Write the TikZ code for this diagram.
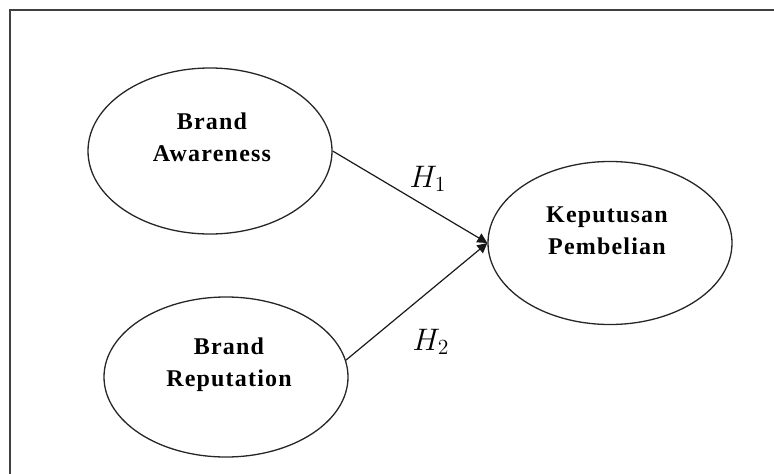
\documentclass[tikz,border=0pt]{standalone}
\usepackage{fontspec}
\setmainfont{Liberation Serif}
\newfontfamily\lblfont[LetterSpace=5]{Liberation Serif}
\usetikzlibrary{shapes.geometric,arrows.meta}
\begin{document}
\begin{tikzpicture}[x=1pt,y=-1pt,
  constr/.style={ellipse,draw=black!85,line width=1.3pt,minimum width=244pt,minimum height=166pt,inner sep=0pt},
  lbl/.style={align=center,inner sep=0pt,font=\lblfont\fontsize{24}{32}\selectfont\bfseries},
  path/.style={draw=black!90,line width=1.2pt,-{Triangle[length=10pt,width=10pt]}},
  hyp/.style={inner sep=0pt,font=\fontsize{20}{24}\selectfont}]
\useasboundingbox (0,0) rectangle (774,474);
\draw[black!75,line width=2pt] (10,474) -- (10,10) -- (774,10);
\node[constr] (ba) at (210,151) {};
\node[constr,minimum height=160pt] (br) at (226,377) {};
\node[constr,minimum height=163pt] (kp) at (610,243) {};
\node[lbl] (bat) at (212,137) {Brand\\Awareness};
\node[lbl] (brt) at (229,365) {Brand\\Reputation};
\node[lbl] (kpt) at (607,231) {Keputusan\\Pembelian};
\draw[path] (ba.east) -- (kp.west);
\draw[path] (br.8) -- (kp.west);
\node[hyp] (h1) at (428,179) {\scalebox{1.5}{$H_1$}};
\node[hyp] (h2) at (431,342) {\scalebox{1.5}{$H_2$}};
\end{tikzpicture}
\end{document}
